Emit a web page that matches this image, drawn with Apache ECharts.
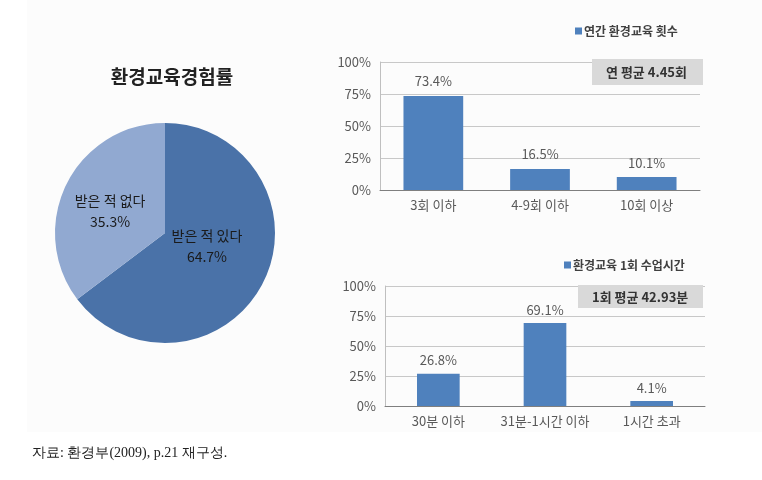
<!DOCTYPE html>
<html><head><meta charset="utf-8">
<script src="https://cdn.jsdelivr.net/npm/echarts@6/dist/echarts.min.js"></script>
<style>html,body{margin:0;padding:0;background:#fff}#c{width:762px;height:480px}</style>
</head><body><div id="c"></div>
<script>
const pieNames = ['받은 적 있다', '받은 적 없다'];
const pieValues = [64.7, 35.3];
const cat1 = ['3회 이하', '4-9회 이하', '10회 이상'];
const val1 = [73.4, 16.5, 10.1];
const cat2 = ['30분 이하', '31분-1시간 이하', '1시간 초과'];
const val2 = [26.8, 69.1, 4.1];
const yTicks = [0, 25, 50, 75, 100];

const F = '"Noto Sans CJK KR", "Noto Sans", sans-serif';
const chart = echarts.init(document.getElementById('c'));
const yAxisBase = (gi) => ({
  gridIndex: gi, type: 'value', min: yTicks[0], max: yTicks[yTicks.length-1], interval: 25,
  axisLabel: {formatter: '{value}%', color: '#595959', fontSize: 13, fontFamily: F, margin: 9},
  axisLine: {show: true, lineStyle: {color: '#bfbfbf'}},
  axisTick: {show: false},
  splitLine: {lineStyle: {color: '#c8c8c8'}}
});
const xAxisBase = (gi, cats) => ({
  gridIndex: gi, type: 'category', data: cats,
  axisLabel: {color: '#595959', fontSize: 13, fontFamily: F, margin: 9, interval: 0},
  axisLine: {lineStyle: {color: '#7f7f7f'}},
  axisTick: {show: false}
});
chart.setOption({
  backgroundColor: '#fff',
  animation: false,
  textStyle: {fontFamily: F},
  graphic: [
    {type: 'rect', shape: {x: 27, y: 0, width: 735, height: 432}, style: {fill: '#fcfcfc'}, z: -10},
    {type: 'text', left: 32, top: 446, style: {text: '자료: 환경부(2009), p.21 재구성.', font: '14px serif', fill: '#222'}}
  ],
  title: [
    {text: '환경교육경험률', left: 167, top: 62, textAlign: 'center',
     textStyle: {fontSize: 19, fontWeight: 'bold', color: '#222', fontFamily: F}},
    {text: '연 평균 4.45회', left: 592, top: 59, padding: [5, 10, 5, 14], backgroundColor: '#d9d9d9',
     textStyle: {fontSize: 13, fontWeight: 'bold', color: '#333', fontFamily: F, width: 87, lineHeight: 16}},
    {text: '1회 평균 42.93분', left: 578, top: 285, padding: [4, 8, 3, 14], backgroundColor: '#d9d9d9',
     textStyle: {fontSize: 13, fontWeight: 'bold', color: '#333', fontFamily: F, width: 103, lineHeight: 16}}
  ],
  legend: [
    {data: ['연간 환경교육 횟수'], left: 570, top: 20, itemWidth: 7, itemHeight: 7, itemGap: 2, icon: 'rect',
     textStyle: {fontSize: 12, fontWeight: 'bold', color: '#404040', fontFamily: F, padding: [0,0,0,-3]}},
    {data: ['환경교육 1회 수업시간'], left: 559, top: 254, itemWidth: 7, itemHeight: 7, icon: 'rect',
     textStyle: {fontSize: 12, fontWeight: 'bold', color: '#404040', fontFamily: F, padding: [0,0,0,-3]}}
  ],
  grid: [
    {left: 380, right: 62, top: 62, bottom: 290},
    {left: 385, right: 57, top: 286, bottom: 74}
  ],
  xAxis: [xAxisBase(0, cat1), xAxisBase(1, cat2)],
  yAxis: [yAxisBase(0), yAxisBase(1)],
  series: [
    {type: 'pie', center: [165, 233], radius: 110, startAngle: 90, clockwise: true,
     data: pieNames.map((n, i) => ({name: n, value: pieValues[i],
       label: i === 0 ? {offset: [-10, -13]} : {offset: [-3, 4]}})),
     color: ['#4a72a8', '#91a9d1'],
     itemStyle: {borderColor: '#fff', borderWidth: 0},
     label: {position: 'inside', formatter: '{b}\n{c}%', color: '#1a1a1a', fontSize: 14, fontFamily: F, lineHeight: 21},
     labelLine: {show: false}},
    {type: 'bar', name: '연간 환경교육 횟수', xAxisIndex: 0, yAxisIndex: 0, data: val1, barWidth: '56%',
     itemStyle: {color: '#4f81bd'},
     label: {show: true, position: 'top', formatter: '{c}%', color: '#595959', fontSize: 13, fontFamily: F, distance: 8}},
    {type: 'bar', name: '환경교육 1회 수업시간', xAxisIndex: 1, yAxisIndex: 1, data: val2, barWidth: '40%',
     itemStyle: {color: '#4f81bd'},
     label: {show: true, position: 'top', formatter: '{c}%', color: '#595959', fontSize: 13, fontFamily: F, distance: 7}}
  ]
});
</script></body></html>
